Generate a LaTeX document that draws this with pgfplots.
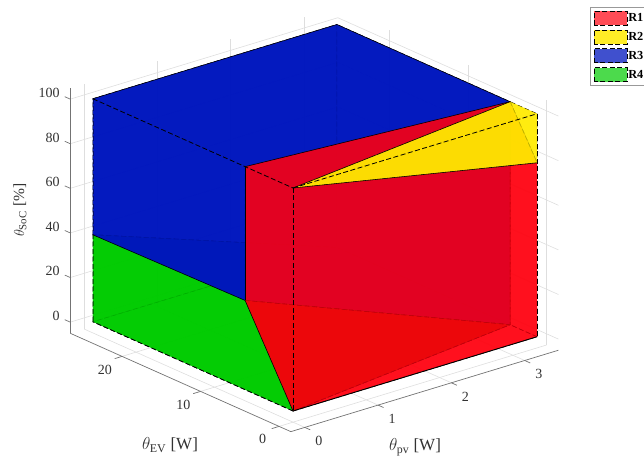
\documentclass[border=0pt]{standalone}
\usepackage{pgfplots}
\usepackage{fontspec}
\setmainfont{Liberation Serif}
\pgfplotsset{compat=1.18}
\definecolor{cR}{RGB}{255,0,15}
\definecolor{cRd}{RGB}{215,0,0}
\definecolor{cY}{RGB}{255,235,0}
\definecolor{cB}{RGB}{0,22,190}
\definecolor{cG}{RGB}{0,203,0}
\definecolor{txt}{RGB}{50,50,50}
\pgfplotsset{
 fc/.style={forget plot,no markers,fill=#1,fill opacity=0.75,draw=black,draw opacity=1,line width=0.6pt,dash pattern=on 5pt off 2.5pt,line join=round},
 ff/.style={fc=#1,draw=none},
 fd/.style={fc=#1,fill opacity=0.87},
 fe/.style={ff=#1,fill opacity=0.87},
 fi/.style={fc=#1,fill opacity=0.55},
 ax/.style={forget plot,no markers,draw=black!55,line width=0.7pt,solid},
 es/.style={forget plot,no markers,draw=black,line width=0.55pt,solid},
 ed/.style={forget plot,no markers,draw=black,line width=0.8pt,dash pattern=on 5pt off 2.5pt},
}
\begin{document}
\begin{tikzpicture}[x=1pt,y=1pt]
\useasboundingbox (0,0) rectangle (644,462);
\begin{axis}[
 at={(293pt,51pt)},anchor=origin,clip=false,
 x={(73.3pt,22.3pt)},y={(-7.85pt,3.5pt)},z={(0pt,2.23pt)},
 xmin=-0.19,xmax=3.46,ymin=-1.5,ymax=26.6,zmin=-5,zmax=105,
 xtick={0,1,2,3},ytick={0,10,20},ztick={0,20,40,60,80,100},
 grid=major,grid style={black!13,line width=0.6pt},
 axis line style={draw=none},
 major tick length=0pt,
 tick align=outside,tick pos=left,
 tick label style={font=\fontsize{14}{14}\selectfont,text=txt},
 xticklabel style={xshift=8.5pt,yshift=-5pt},
 yticklabel style={xshift=-10pt,yshift=-3.5pt},
 zticklabel style={xshift=-7pt,yshift=5.5pt},
 /pgf/number format/assume math mode=true,
 xlabel={$\theta_{\mathrm{pv}}$ [W]},
 ylabel={$\theta_{\mathrm{EV}}$ [W]},
 zlabel={$\theta_{\mathrm{SoC}}$ [\%]},
 xlabel style={at={(axis cs:1.664,0,-32.8)},anchor=center,font=\fontsize{17}{17}\selectfont,text=txt},
 ylabel style={at={(axis cs:-1.678,0,1.5)},anchor=center,font=\fontsize{17}{17}\selectfont,text=txt},
 zlabel style={at={(axis cs:-3.724,0,127.3)},anchor=center,rotate=0,font=\fontsize{15.5}{15.5}\selectfont,text=txt},
 legend style={at={(axis cs:4.052,0,140.6)},anchor=north west,draw=black!40,line width=0.8pt,font=\fontsize{12.3}{12.3}\selectfont\bfseries,inner sep=3.2pt,row sep=4.2pt,nodes={inner sep=1pt}},
 legend cell align=left,
 legend image code/.code={\draw[#1] (0pt,-7pt) rectangle (33pt,7pt);},
]
% axis lines
\addplot3[ax] coordinates {(-0.19,-1.5,-5)(3.46,-1.5,-5)};
\addplot3[ax] coordinates {(-0.19,-1.5,-5)(-0.19,26.6,-5)};
\addplot3[ax] coordinates {(-0.19,26.6,-5)(-0.19,26.6,105)};
% tick marks
\addplot3[ax] coordinates {(0,-1.5,-5)(0,-2.2,-5)};
\addplot3[ax] coordinates {(1,-1.5,-5)(1,-2.2,-5)};
\addplot3[ax] coordinates {(2,-1.5,-5)(2,-2.2,-5)};
\addplot3[ax] coordinates {(3,-1.5,-5)(3,-2.2,-5)};
\addplot3[ax] coordinates {(-0.19,0,-5)(-0.29,0,-5)};
\addplot3[ax] coordinates {(-0.19,10,-5)(-0.29,10,-5)};
\addplot3[ax] coordinates {(-0.19,20,-5)(-0.29,20,-5)};
\addplot3[ax] coordinates {(-0.19,26.6,0)(-0.19,27.3,0)};
\addplot3[ax] coordinates {(-0.19,26.6,20)(-0.19,27.3,20)};
\addplot3[ax] coordinates {(-0.19,26.6,40)(-0.19,27.3,40)};
\addplot3[ax] coordinates {(-0.19,26.6,60)(-0.19,27.3,60)};
\addplot3[ax] coordinates {(-0.19,26.6,80)(-0.19,27.3,80)};
\addplot3[ax] coordinates {(-0.19,26.6,100)(-0.19,27.3,100)};
% bottom
\addplot3[fd=cG] coordinates {(0,0,0)(0,25.5,0)(3.33,25.5,0)(3.33,3.44,0)(0,0,0)};
\addplot3[fc=cR] coordinates {(0,0,0)(3.33,0,0)(3.33,3.44,0)(0,0,0)};
% back walls
\addplot3[fd=cG] coordinates {(0,25.5,0)(0,25.5,39)(3.33,25.5,0)(0,25.5,0)};
\addplot3[fd=cB] coordinates {(0,25.5,39)(0,25.5,100)(3.33,25.5,100)(3.33,25.5,0)(0,25.5,39)};
\addplot3[fd=cB] coordinates {(3.33,25.5,0)(3.33,25.5,100)(3.33,3.44,100)(3.33,3.44,0)(3.33,25.5,0)};
% interfaces
\addplot3[fd=cG] coordinates {(0,25.5,39)(0,6.1,40)(3.33,3.44,0)(3.33,25.5,0)(0,25.5,39)};
\addplot3[fd=cB] coordinates {(0,25.5,39)(0,6.1,40)(3.33,3.44,0)(3.33,25.5,0)(0,25.5,39)};
\addplot3[fd=cB] coordinates {(0,6.1,100)(0,6.1,40)(3.33,3.44,0)(3.33,3.44,100)(0,6.1,100)};
\addplot3[fc=cR] coordinates {(3.33,0,0)(3.33,3.44,0)(3.33,3.44,100)(3.33,0,78)(3.33,0,0)};
\addplot3[fc=cY] coordinates {(3.33,0,78)(3.33,3.44,100)(3.33,0,100)(3.33,0,78)};
\addplot3[fi=cR] coordinates {(0,6.1,100)(0,6.1,40)(3.33,3.44,0)(3.33,3.44,100)(0,6.1,100)};
\addplot3[fd=cG] coordinates {(0,0,0)(0,6.1,40)(3.33,3.44,0)(0,0,0)};
\addplot3[fc=cRd,fill opacity=0.85] coordinates {(0,0,0)(0,6.1,40)(3.33,3.44,0)(0,0,0)};
\addplot3[fc=cR] coordinates {(0,0,100)(3.33,0,78)(3.33,3.44,100)(0,0,100)};
\addplot3[fc=cY] coordinates {(0,0,100)(3.33,0,78)(3.33,3.44,100)(0,0,100)};
% front faces
\addplot3[fe=cG] coordinates {(0,0,0)(0,6.1,40)(0,25.5,39)(0,25.5,0)(0,0,0)};
\addplot3[fe=cB] coordinates {(0,25.5,39)(0,25.5,100)(0,6.1,100)(0,6.1,40)(0,25.5,39)};
\addplot3[ff=cR] coordinates {(0,0,0)(0,6.1,40)(0,6.1,100)(0,0,100)(0,0,0)};
\addplot3[ff=cR] coordinates {(0,0,0)(3.33,0,0)(3.33,0,78)(0,0,100)(0,0,0)};
\addplot3[ff=cY] coordinates {(0,0,100)(3.33,0,100)(3.33,0,78)(0,0,100)};
\addplot3[fe=cB] coordinates {(0,25.5,100)(3.33,25.5,100)(3.33,3.44,100)(0,6.1,100)(0,25.5,100)};
\addplot3[ff=cR] coordinates {(0,6.1,100)(3.33,3.44,100)(0,0,100)(0,6.1,100)};
\addplot3[ff=cY] coordinates {(0,0,100)(3.33,3.44,100)(3.33,0,100)(0,0,100)};
% front edges
\addplot3[es] coordinates {(0,6.1,100)(0,6.1,40)};
\addplot3[es] coordinates {(0,25.5,39)(0,6.1,40)(0,0,0)};
\addplot3[es] coordinates {(0,6.1,100)(3.33,3.44,100)};
\addplot3[es] coordinates {(0,0,100)(3.33,3.44,100)};
\addplot3[es] coordinates {(0,0,100)(3.33,0,78)};
\addplot3[es] coordinates {(0,25.5,100)(3.33,25.5,100)(3.33,3.44,100)};
\addplot3[es,line width=0.9pt] coordinates {(0,0,0)(3.33,0,0)};
\addplot3[ed] coordinates {(0,25.5,100)(0,0,100)};
\addplot3[ed] coordinates {(0,0,100)(0,0,0)};
\addplot3[ed] coordinates {(0,0,0)(0,25.5,0)};
\addplot3[ed] coordinates {(0,0,100)(3.33,0,100)};
\addplot3[ed] coordinates {(3.33,0,100)(3.33,0,0)};
\addplot3[ed,draw opacity=0.45,line width=0.6pt] coordinates {(0,25.5,100)(0,25.5,0)};
\addlegendimage{fill=cR,fill opacity=0.7,draw=black,dash pattern=on 5pt off 2.5pt,line width=0.7pt}
\addlegendentry{R1}
\addlegendimage{fill=cY,fill opacity=0.85,draw=black,dash pattern=on 5pt off 2.5pt,line width=0.7pt}
\addlegendentry{R2}
\addlegendimage{fill=cB,fill opacity=0.75,draw=black,dash pattern=on 5pt off 2.5pt,line width=0.7pt}
\addlegendentry{R3}
\addlegendimage{fill=cG,fill opacity=0.7,draw=black,dash pattern=on 5pt off 2.5pt,line width=0.7pt}
\addlegendentry{R4}
\end{axis}
\end{tikzpicture}
\end{document}
